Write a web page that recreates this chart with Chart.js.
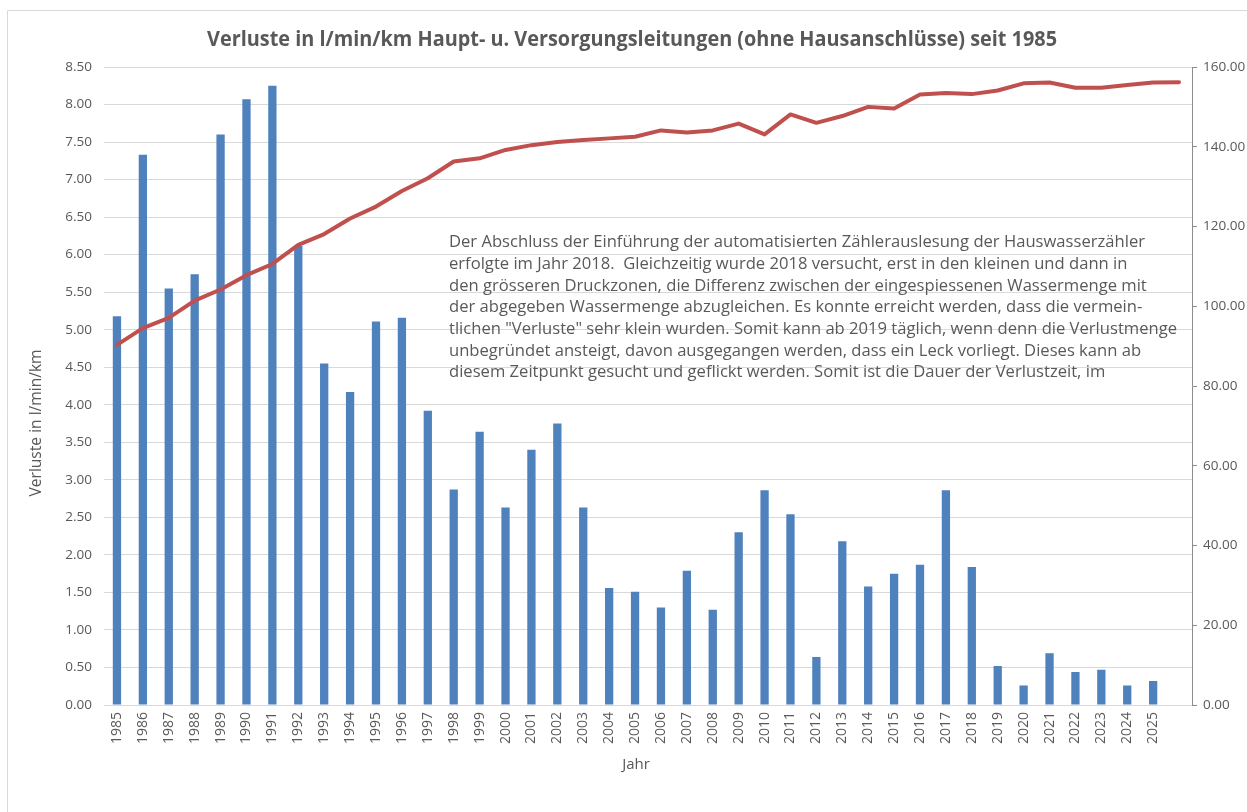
<!DOCTYPE html>
<html>
<head>
<meta charset="utf-8">
<script src="https://cdn.jsdelivr.net/npm/chart.js@4.4.1/dist/chart.umd.min.js"></script>
<style>
html,body{margin:0;padding:0;background:#ffffff;overflow:hidden;}
#wrap{position:absolute;left:0;top:0;width:1247px;height:812px;}
</style>
</head>
<body>
<div id="wrap"><canvas id="c" width="1247" height="812"></canvas></div>
<script>
// ---- data ----
const categories = ['1985','1986','1987','1988','1989','1990','1991','1992','1993','1994',
  '1995','1996','1997','1998','1999','2000','2001','2002','2003','2004',
  '2005','2006','2007','2008','2009','2010','2011','2012','2013','2014',
  '2015','2016','2017','2018','2019','2020','2021','2022','2023','2024','2025',''];

// Verluste in l/min/km (left axis, bars)
const lossValues = [5.18,7.33,5.55,5.74,7.60,8.07,8.25,6.12,4.55,4.17,
  5.11,5.16,3.92,2.87,3.64,2.63,3.40,3.75,2.63,1.56,
  1.51,1.30,1.79,1.27,2.30,2.86,2.54,0.64,2.18,1.58,
  1.75,1.87,2.86,1.84,0.52,0.26,0.69,0.44,0.47,0.26,0.32,null];

// secondary series (right axis, line)
const lineValues = [90.3,94.5,97.1,101.4,104.2,107.8,110.6,115.4,118.1,122.0,
  125.0,128.9,132.1,136.3,137.1,139.2,140.4,141.2,141.7,142.1,
  142.5,144.1,143.6,144.1,145.8,143.1,148.1,146.0,147.7,150.0,
  149.6,153.1,153.5,153.2,154.1,155.9,156.1,154.8,154.8,155.5,156.1,156.2];

const leftTicks = [0,0.5,1,1.5,2,2.5,3,3.5,4,4.5,5,5.5,6,6.5,7,7.5,8,8.5];
const rightTicks = [0,20,40,60,80,100,120,140,160];

const titleText = 'Verluste in l/min/km Haupt- u. Versorgungsleitungen (ohne Hausanschlüsse) seit 1985';
const yTitleText = 'Verluste in l/min/km';
const xTitleText = 'Jahr';
const noteLines = [
  'Der Abschluss der Einführung der automatisierten Zählerauslesung der Hauswasserzähler',
  'erfolgte im Jahr 2018.  Gleichzeitig wurde 2018 versucht, erst in den kleinen und dann in',
  'den grösseren Druckzonen, die Differenz zwischen der eingespiessenen Wassermenge mit',
  'der abgegeben Wassermenge abzugleichen. Es konnte erreicht werden, dass die vermein-',
  'tlichen "Verluste" sehr klein wurden. Somit kann ab 2019 täglich, wenn denn die Verlustmenge',
  'unbegründet ansteigt, davon ausgegangen werden, dass ein Leck vorliegt. Dieses kann ab',
  'diesem Zeitpunkt gesucht und geflickt werden. Somit ist die Dauer der Verlustzeit, im'
];

const FONT = "'Open Sans', 'Noto Sans', sans-serif";
const TXT = '#595959';

// draws text with a given font size, horizontally condensed so the reference line fits targetWidth
function condensedScale(ctx, refText, fontSpec, targetWidth) {
  ctx.font = fontSpec;
  return targetWidth / ctx.measureText(refText).width;
}

const overlay = {
  id: 'overlay',
  beforeDraw(chart) {
    const ctx = chart.ctx;
    ctx.save();
    ctx.strokeStyle = '#d9d9d9';
    ctx.lineWidth = 1;
    ctx.beginPath();
    ctx.moveTo(7.5, 812);
    ctx.lineTo(7.5, 10.5);
    ctx.lineTo(1247, 10.5);
    ctx.stroke();
    ctx.restore();
  },
  afterDraw(chart) {
    const ctx = chart.ctx;
    ctx.save();
    ctx.fillStyle = TXT;
    ctx.textBaseline = 'middle';
    // title
    const tf = 'bold 20.5px ' + FONT;
    const tsx = condensedScale(ctx, titleText, tf, 850);
    ctx.save();
    ctx.translate(632, 40);
    ctx.scale(tsx, 1);
    ctx.textAlign = 'center';
    ctx.fillText(titleText, 0, 0);
    ctx.restore();
    // x title
    ctx.font = '15px ' + FONT;
    ctx.textAlign = 'center';
    ctx.fillText(xTitleText, 636, 765);
    // y title
    const yf = '16.5px ' + FONT;
    const ysx = condensedScale(ctx, yTitleText, yf, 147);
    ctx.save();
    ctx.translate(36, 423);
    ctx.rotate(-Math.PI / 2);
    ctx.scale(ysx, 1);
    ctx.fillText(yTitleText, 0, 0);
    ctx.restore();
    // note
    const nf = '15.5px ' + FONT;
    const nsx = condensedScale(ctx, noteLines[0], nf, 696);
    ctx.textAlign = 'left';
    noteLines.forEach((l, i) => {
      ctx.save();
      ctx.translate(449, 243 + i * 21.67);
      ctx.scale(nsx, 1);
      ctx.fillText(l, 0, 0);
      ctx.restore();
    });
    ctx.restore();
  }
};

Chart.defaults.font.family = FONT;
Chart.defaults.color = TXT;

new Chart(document.getElementById('c'), {
  data: {
    labels: categories,
    datasets: [
      {
        type: 'line',
        label: 'Leitungsnetz',
        data: lineValues,
        yAxisID: 'y1',
        borderColor: '#c0504d',
        backgroundColor: '#c0504d',
        borderWidth: 4,
        pointRadius: 0,
        tension: 0,
        borderJoinStyle: 'round',
        borderCapStyle: 'round',
        order: 1
      },
      {
        type: 'bar',
        label: 'Verluste in l/min/km',
        data: lossValues,
        yAxisID: 'y',
        backgroundColor: '#4f81bd',
        borderWidth: 0,
        barPercentage: 0.32,
        categoryPercentage: 1.0,
        order: 2
      }
    ]
  },
  options: {
    responsive: false,
    animation: false,
    devicePixelRatio: 1,
    layout: { padding: { top: 67, left: 0, right: 0, bottom: 0 } },
    plugins: { legend: { display: false }, title: { display: false }, tooltip: { enabled: false } },
    scales: {
      x: {
        offset: true,
        grid: { display: false, drawTicks: false },
        border: { display: true, color: '#d9d9d9', width: 1 },
        ticks: { autoSkip: false, minRotation: 90, maxRotation: 90, padding: 7, font: { size: 14 }, color: TXT },
        afterFit(s) { s.height = 107; }
      },
      y: {
        position: 'left',
        min: 0, max: 8.5,
        afterBuildTicks(s) { s.ticks = leftTicks.map(v => ({ value: v })); },
        grid: { color: '#d9d9d9', drawTicks: false },
        border: { display: false },
        ticks: { padding: 12, font: { size: 13.5 }, color: TXT, callback: v => Number(v).toFixed(2) },
        afterFit(s) { s.width = 104; }
      },
      y1: {
        position: 'right',
        min: 0, max: 160,
        afterBuildTicks(s) { s.ticks = rightTicks.map(v => ({ value: v })); },
        grid: { drawOnChartArea: false, drawTicks: true, tickLength: 5, color: '#8c8c8c' },
        border: { display: true, color: '#8c8c8c', width: 1 },
        ticks: { padding: 6, font: { size: 13.5 }, color: TXT, callback: v => Number(v).toFixed(2) },
        afterFit(s) { s.width = 55; }
      }
    }
  },
  plugins: [overlay]
});
</script>
</body>
</html>
